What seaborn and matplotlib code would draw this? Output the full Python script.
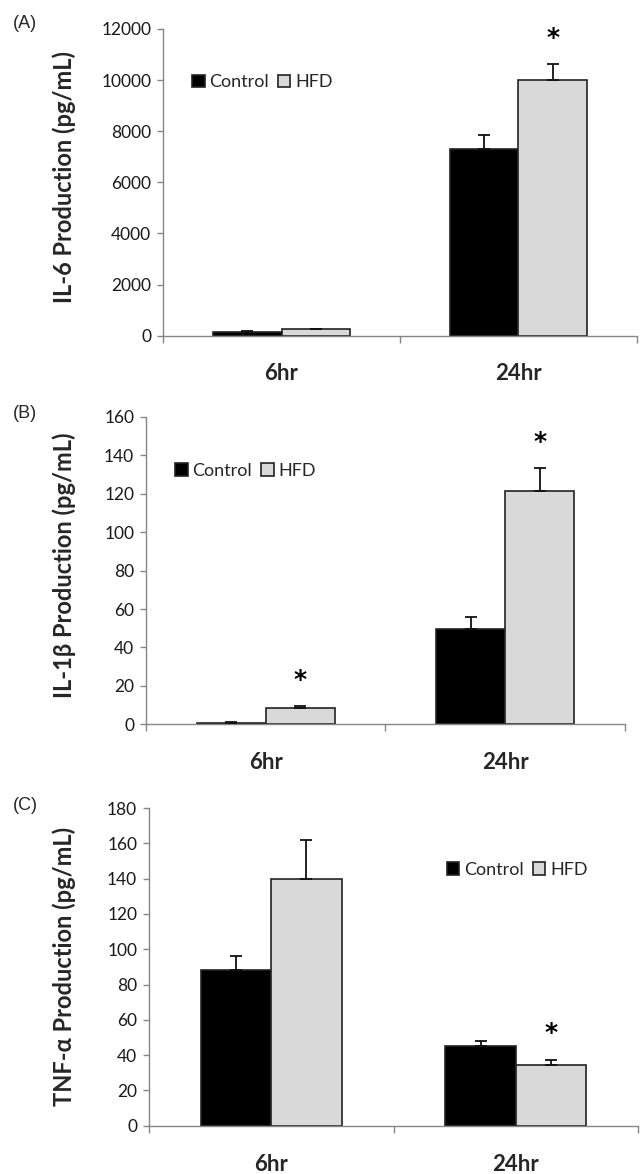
import numpy as np
import pandas as pd
import matplotlib
matplotlib.use('Agg')
import matplotlib.pyplot as plt
import seaborn as sns

# 数据
times = ['6hr', '24hr']
groups = ['Control', 'HFD']

il6_control = [135, 7320]
il6_control_err = [55, 530]
il6_hfd = [250, 9990]
il6_hfd_err = [15, 635]

il1b_control = [0.8, 49.7]
il1b_control_err = [0.5, 6.3]
il1b_hfd = [8.5, 121.5]
il1b_hfd_err = [0.9, 12.0]

tnf_control = [88.0, 45.0]
tnf_control_err = [8.1, 3.3]
tnf_hfd = [140.0, 34.6]
tnf_hfd_err = [22.0, 2.8]

# 标星号的 HFD 柱
il6_star = ['24hr']
il1b_star = ['6hr', '24hr']
tnf_star = ['24hr']

sns.set_style('white')
plt.rcParams['font.family'] = ['Lato', 'DejaVu Sans']

AXIS_GREY = '#868686'
HFD_GREY = '#d9d9d9'


def draw_panel(ax, ctrl, ctrl_err, hfd, hfd_err, ymax, step, stars, legend_xy):
    df = pd.DataFrame({
        'time': times * 2,
        'group': ['Control'] * 2 + ['HFD'] * 2,
        'value': ctrl + hfd,
    })
    sns.barplot(data=df, x='time', y='value', hue='group', order=times,
                hue_order=groups, palette={'Control': 'black', 'HFD': HFD_GREY},
                width=0.575, edgecolor='#222222', linewidth=1.2, errorbar=None,
                saturation=1, ax=ax)

    # 只画向上的误差线
    for cont, errs in zip(ax.containers, [ctrl_err, hfd_err]):
        for bar, e in zip(cont, errs):
            x = bar.get_x() + bar.get_width() / 2
            y = bar.get_height()
            ax.errorbar(x, y, yerr=[[0], [e]], fmt='none', ecolor='#111111',
                        elinewidth=1.3, capsize=4, capthick=1.3, zorder=5)

    # 星号
    for bar, e, t in zip(ax.containers[1], hfd_err, times):
        if t in stars:
            x = bar.get_x() + bar.get_width() / 2
            ax.text(x, bar.get_height() + e + 0.085 * ymax, '*', ha='center',
                    va='center', fontsize=18, fontweight='bold', color='black',
                    family=['DejaVu Sans'])

    ax.set_xlim(-0.5, 1.5)
    ax.set_ylim(0, ymax)
    ax.set_yticks(np.arange(0, ymax + 1, step))
    ax.set_xlabel('')
    ax.set_ylabel('')
    for s in ['top', 'right']:
        ax.spines[s].set_visible(False)
    for s in ['left', 'bottom']:
        ax.spines[s].set_color(AXIS_GREY)
        ax.spines[s].set_linewidth(1.0)

    ax.tick_params(axis='y', direction='out', length=4.5, width=1.0,
                   color=AXIS_GREY, labelsize=12.5, labelcolor='#1a1a1a', pad=4, left=True)
    ax.set_xticks([-0.5, 0.5, 1.5], minor=True)
    ax.tick_params(axis='x', which='minor', direction='out', length=5,
                   width=1.0, color=AXIS_GREY, bottom=True)
    ax.tick_params(axis='x', which='major', length=0, labelsize=16, pad=20)
    for lab in ax.get_xticklabels():
        lab.set_fontweight('bold')

    handles, labels = ax.get_legend_handles_labels()
    ax.legend(handles, labels, ncol=2, loc='center left', bbox_to_anchor=legend_xy,
              frameon=False, handlelength=0.7, handleheight=0.7,
              handletextpad=0.25, columnspacing=0.5, borderpad=0,
              borderaxespad=0, fontsize=13)


fig = plt.figure(figsize=(6.4, 11.74), dpi=100)
ax_a = fig.add_axes([0.2547, 0.7141, 0.7406, 0.2612])
ax_b = fig.add_axes([0.2281, 0.3830, 0.7484, 0.2620])
ax_c = fig.add_axes([0.2328, 0.0411, 0.7641, 0.2706])

draw_panel(ax_a, il6_control, il6_control_err, il6_hfd, il6_hfd_err,
           12000, 2000, il6_star, (0.061, 0.826))
draw_panel(ax_b, il1b_control, il1b_control_err, il1b_hfd, il1b_hfd_err,
           160, 20, il1b_star, (0.0605, 0.824))
draw_panel(ax_c, tnf_control, tnf_control_err, tnf_hfd, tnf_hfd_err,
           180, 20, tnf_star, (0.609, 0.805))

# y 轴标题和面板字母
ylabels = [('IL-6 Production (pg/mL)', 177),
           ('IL-1β Production (pg/mL)', 565),
           ('TNF-α Production (pg/mL)', 966)]
for text, yc in ylabels:
    fig.text(64 / 640, 1 - yc / 1174, text, rotation=90, ha='center',
             va='center', fontsize=17, fontweight='bold')

for letter, yc in [('(A)', 24), ('(B)', 413), ('(C)', 805)]:
    fig.text(13 / 640, 1 - yc / 1174, letter, ha='left', va='center',
             fontsize=13, family=['Liberation Sans', 'DejaVu Sans'])

fig.savefig('out.png', dpi=100)
